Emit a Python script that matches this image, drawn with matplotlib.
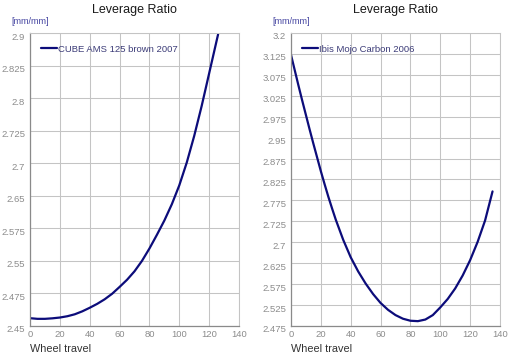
import numpy as np
import matplotlib
matplotlib.use("Agg")
import matplotlib.pyplot as plt
from matplotlib.transforms import ScaledTranslation

plt.rcParams["font.family"] = ["Liberation Sans", "DejaVu Sans"]

# ------------------------------------------------------------
# Datos
# ------------------------------------------------------------

TITLE = "Leverage Ratio"
X_LABEL = "Wheel travel"
Y_UNIT = "[mm/mm]"

X_TICKS = [0, 20, 40, 60, 80, 100, 120, 140]

# CUBE AMS 125 brown 2007
CUBE_NAME = "CUBE AMS 125 brown 2007"
CUBE_X = [0, 5, 10, 15, 20, 25, 30, 35, 40, 45, 50, 55, 60, 65, 70, 75, 80, 85,
          90, 95, 100, 105, 110, 115, 120, 126]
CUBE_Y = [2.462, 2.461, 2.461, 2.4618, 2.463, 2.465, 2.468, 2.4725, 2.478, 2.484,
          2.491, 2.4995, 2.510, 2.521, 2.534, 2.550, 2.569, 2.590, 2.612, 2.637,
          2.666, 2.701, 2.742, 2.788, 2.838, 2.898]
CUBE_YLIM = (2.45, 2.9)
CUBE_YTICK_LABELS = ["2.45", "2.475", "2.55", "2.575", "2.65",
                     "2.7", "2.725", "2.8", "2.825", "2.9"]

# Ibis Mojo Carbon 2006
IBIS_NAME = "Ibis Mojo Carbon 2006"
IBIS_X = [0, 2.5, 5, 7.5, 10, 12.5, 15, 17.5, 20, 22.5, 25, 27.5, 30, 35, 40, 45,
          50, 55, 60, 65, 70, 75, 80, 85, 90, 95, 100, 105, 110, 115, 120, 125,
          130, 135]
IBIS_Y = [3.146, 3.108, 3.070, 3.033, 2.997, 2.961, 2.926, 2.892, 2.858, 2.826,
          2.795, 2.766, 2.738, 2.688, 2.645, 2.610, 2.580, 2.554, 2.532, 2.515,
          2.502, 2.493, 2.488, 2.487, 2.491, 2.502, 2.521, 2.542, 2.568, 2.600,
          2.638, 2.683, 2.736, 2.808]
IBIS_YLIM = (2.475, 3.2)
IBIS_YTICK_LABELS = ["2.475", "2.525", "2.575", "2.625", "2.7", "2.725", "2.775",
                     "2.825", "2.875", "2.95", "2.975", "3.025", "3.075", "3.125", "3.2"]

# ------------------------------------------------------------
# Estilo
# ------------------------------------------------------------

LINE_COLOR = "#0c0c7a"
GRID_COLOR = "#c4c4c4"
AXIS_COLOR = "#8a8a8a"
TICK_COLOR = "#8c8c8c"
UNIT_COLOR = "#4444a0"
LEGEND_COLOR = "#3c3c78"

W, H = 523, 355
AX_W, AX_H = 209, 293


def draw_panel(fig, left_px, x, y, name, ylim, ytick_labels):
    ax = fig.add_axes([left_px / W, (H - 326) / H, AX_W / W, AX_H / H])

    ax.plot(x, y, color=LINE_COLOR, lw=1.6, label=name,
            solid_capstyle="round", solid_joinstyle="round")

    ax.set_xlim(0, 140)
    ax.set_ylim(*ylim)
    ax.set_xticks(X_TICKS)
    ax.set_xticklabels([str(t) for t in X_TICKS])
    yt = np.linspace(ylim[0], ylim[1], len(ytick_labels))
    ax.set_yticks(yt)
    ax.set_yticklabels(ytick_labels)

    ax.grid(True, color=GRID_COLOR, lw=0.75)
    ax.set_axisbelow(True)
    for side in ["top", "right"]:
        ax.spines[side].set_color(GRID_COLOR)
        ax.spines[side].set_linewidth(0.75)
    for side in ["left", "bottom"]:
        ax.spines[side].set_color(AXIS_COLOR)
        ax.spines[side].set_linewidth(0.9)

    ax.tick_params(axis="both", length=0, labelsize=6.8, labelcolor=TICK_COLOR)
    ax.tick_params(axis="x", pad=3)
    ax.tick_params(axis="y", pad=3.6)
    offset = ScaledTranslation(0, -0.03, fig.dpi_scale_trans)
    for lab in ax.get_yticklabels():
        lab.set_transform(lab.get_transform() + offset)

    ax.text(0.5, 1 + 23 / AX_H, TITLE, transform=ax.transAxes,
            ha="center", va="center", fontsize=9, color="#1a1a1a")
    ax.text(0, 1 + 12 / AX_H, Y_UNIT, transform=ax.transAxes,
            ha="center", va="center", fontsize=6.5, color=UNIT_COLOR)
    ax.text(0, -23 / AX_H, X_LABEL, transform=ax.transAxes,
            ha="left", va="center", fontsize=7.8, color="#333333")

    leg = ax.legend(loc="center left", bbox_to_anchor=(11 / AX_W, 1 - 16 / AX_H),
                    frameon=False, fontsize=6.8, handlelength=1.7,
                    handletextpad=0.15, borderpad=0, borderaxespad=0)
    for t in leg.get_texts():
        t.set_color(LEGEND_COLOR)
    return ax


fig = plt.figure(figsize=(W / 100, H / 100), dpi=100)
fig.patch.set_facecolor("white")

draw_panel(fig, 30, CUBE_X, CUBE_Y, CUBE_NAME, CUBE_YLIM, CUBE_YTICK_LABELS)
draw_panel(fig, 291, IBIS_X, IBIS_Y, IBIS_NAME, IBIS_YLIM, IBIS_YTICK_LABELS)

fig.savefig("out.png", dpi=100)
